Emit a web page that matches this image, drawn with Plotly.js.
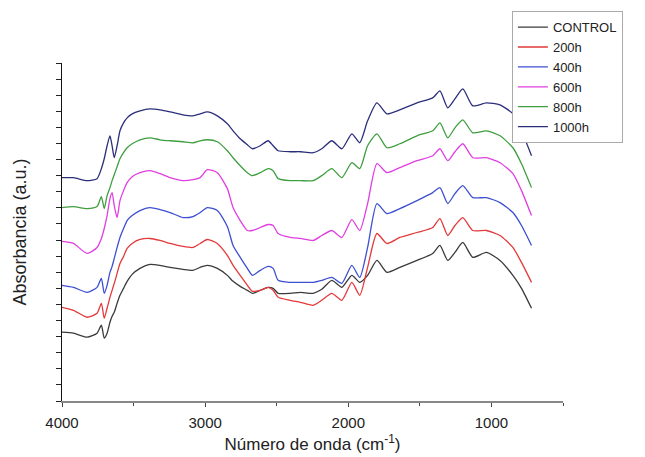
<!DOCTYPE html>
<html>
<head>
<meta charset="utf-8">
<script src="https://cdn.plot.ly/plotly-3.0.1.min.js"></script>
<style>html,body{margin:0;padding:0;background:#fff;}#chart{width:645px;height:457px;}</style>
</head>
<body>
<div id="chart"></div>
<script>
// Wavenumbers (cm^-1), shared by all spectra
const wavenumber = [4000,3920,3825,3755,3725,3705,3685,3665,3650,3635,3615,3595,3570,3545,3510,3455,3385,3315,3245,3155,3085,3035,2985,2915,2845,2805,2755,2705,2670,2615,2560,2525,2490,2405,2335,2245,2185,2115,2045,1975,1920,1865,1800,1730,1640,1520,1410,1360,1305,1255,1200,1130,1035,940,850,790,720];

// Absorbance (a.u., offset stacked)
const control = [0.69,0.68,0.64,0.68,0.76,0.63,0.68,0.79,0.85,0.89,0.98,1.06,1.13,1.20,1.27,1.33,1.37,1.36,1.34,1.32,1.31,1.34,1.36,1.33,1.26,1.20,1.15,1.11,1.08,1.11,1.14,1.13,1.08,1.08,1.09,1.08,1.12,1.21,1.14,1.26,1.19,1.26,1.41,1.29,1.34,1.41,1.48,1.56,1.41,1.49,1.59,1.44,1.49,1.41,1.26,1.13,0.93];
const h200 = [0.94,0.91,0.84,0.88,0.98,0.83,0.93,1.04,1.11,1.18,1.28,1.38,1.45,1.53,1.58,1.62,1.63,1.61,1.58,1.55,1.54,1.58,1.62,1.58,1.46,1.36,1.26,1.16,1.10,1.11,1.14,1.11,1.04,1.01,0.99,0.96,1.01,1.08,1.01,1.19,1.06,1.34,1.68,1.58,1.64,1.69,1.74,1.83,1.66,1.76,1.84,1.71,1.71,1.66,1.54,1.39,1.19];
const h400 = [1.16,1.14,1.09,1.14,1.23,1.08,1.16,1.29,1.35,1.43,1.54,1.64,1.73,1.81,1.86,1.91,1.94,1.92,1.89,1.84,1.85,1.89,1.94,1.91,1.75,1.56,1.44,1.33,1.26,1.31,1.35,1.33,1.21,1.19,1.19,1.19,1.21,1.24,1.18,1.36,1.24,1.54,1.98,1.88,1.93,2.01,2.09,2.14,1.98,2.08,2.16,2.04,2.04,1.99,1.89,1.76,1.56];
const h600 = [1.60,1.58,1.48,1.54,1.63,1.73,1.86,2.03,2.09,1.96,1.84,2.01,2.11,2.19,2.25,2.29,2.31,2.28,2.24,2.21,2.22,2.24,2.32,2.29,2.13,1.94,1.81,1.71,1.71,1.74,1.77,1.76,1.68,1.64,1.63,1.61,1.66,1.71,1.64,1.82,1.71,1.98,2.38,2.29,2.34,2.41,2.46,2.53,2.41,2.50,2.58,2.44,2.44,2.39,2.28,2.11,1.86];
const h800 = [1.94,1.95,1.93,1.95,2.05,1.93,2.06,2.14,2.21,2.27,2.35,2.43,2.49,2.54,2.58,2.62,2.64,2.62,2.61,2.60,2.59,2.61,2.62,2.60,2.51,2.44,2.36,2.29,2.26,2.29,2.33,2.31,2.23,2.21,2.21,2.21,2.26,2.33,2.24,2.39,2.33,2.56,2.68,2.54,2.58,2.66,2.71,2.79,2.64,2.74,2.82,2.69,2.71,2.66,2.54,2.38,2.14];
const h1000 = [2.24,2.24,2.21,2.23,2.33,2.43,2.56,2.66,2.56,2.44,2.56,2.71,2.79,2.84,2.88,2.91,2.93,2.92,2.90,2.87,2.86,2.88,2.90,2.86,2.78,2.71,2.63,2.57,2.53,2.56,2.61,2.56,2.51,2.50,2.50,2.49,2.53,2.61,2.53,2.68,2.59,2.81,2.99,2.88,2.92,2.99,3.04,3.11,2.94,3.03,3.13,2.96,2.99,2.97,2.88,2.71,2.46];

const seriesNames = ["CONTROL","200h","400h","600h","800h","1000h"];
const seriesValues = [control,h200,h400,h600,h800,h1000];
const seriesColors = ["#3a3a3a","#e3393a","#3d4fd2","#e03ee0","#3f9e3f","#2b2f7a"];

// x-axis tick labels
const xTickVals = [4000,3000,2000,1000];
const xTickText = ["4000","3000","2000","1000"];

const traces = seriesNames.map((n,i)=>({
  type:'scatter', mode:'lines', name:n,
  x: wavenumber, y: seriesValues[i],
  line:{color:seriesColors[i], width:1.3, shape:'spline', smoothing:0.6}
}));

const layout = {
  width:645, height:457,
  margin:{l:62, r:82, t:62, b:56},
  paper_bgcolor:'#fff', plot_bgcolor:'#fff',
  font:{family:'"Liberation Sans", Arial, sans-serif', color:'#222', size:13},
  showlegend:true,
  legend:{x:0.898, y:1.15, xanchor:'left', yanchor:'top',
    bordercolor:'#aaa', borderwidth:1, bgcolor:'#fff',
    font:{size:13, color:'#222'}, tracegroupgap:0},
  xaxis:{
    range:[4000,500], showgrid:false, zeroline:false,
    showline:true, linecolor:'#888', linewidth:2,
    ticks:'outside', ticklen:4, tickcolor:'#444',
    tickvals:xTickVals, ticktext:xTickText,
    ticklabelstandoff:3,
    minor:{tickvals:[3500,2500,1500,500], ticks:'outside', ticklen:3, tickcolor:'#444'},
    tickfont:{size:15, color:'#222'},
    title:{text:'Número de onda (cm<sup>-1</sup>)', font:{size:17, color:'#222'}, standoff:8}
  },
  yaxis:{
    range:[0,3.39], showgrid:false, zeroline:false,
    showline:true, linecolor:'#111', linewidth:1.5,
    ticks:'outside', ticklen:5, tickcolor:'#222',
    tick0:0, dtick:3.39/21, showticklabels:false,
    title:{text:'Absorbancia (a.u.)', font:{size:18, color:'#222'}, standoff:24}
  }
};

Plotly.newPlot('chart', traces, layout, {displayModeBar:false, staticPlot:true});
</script>
</body>
</html>
